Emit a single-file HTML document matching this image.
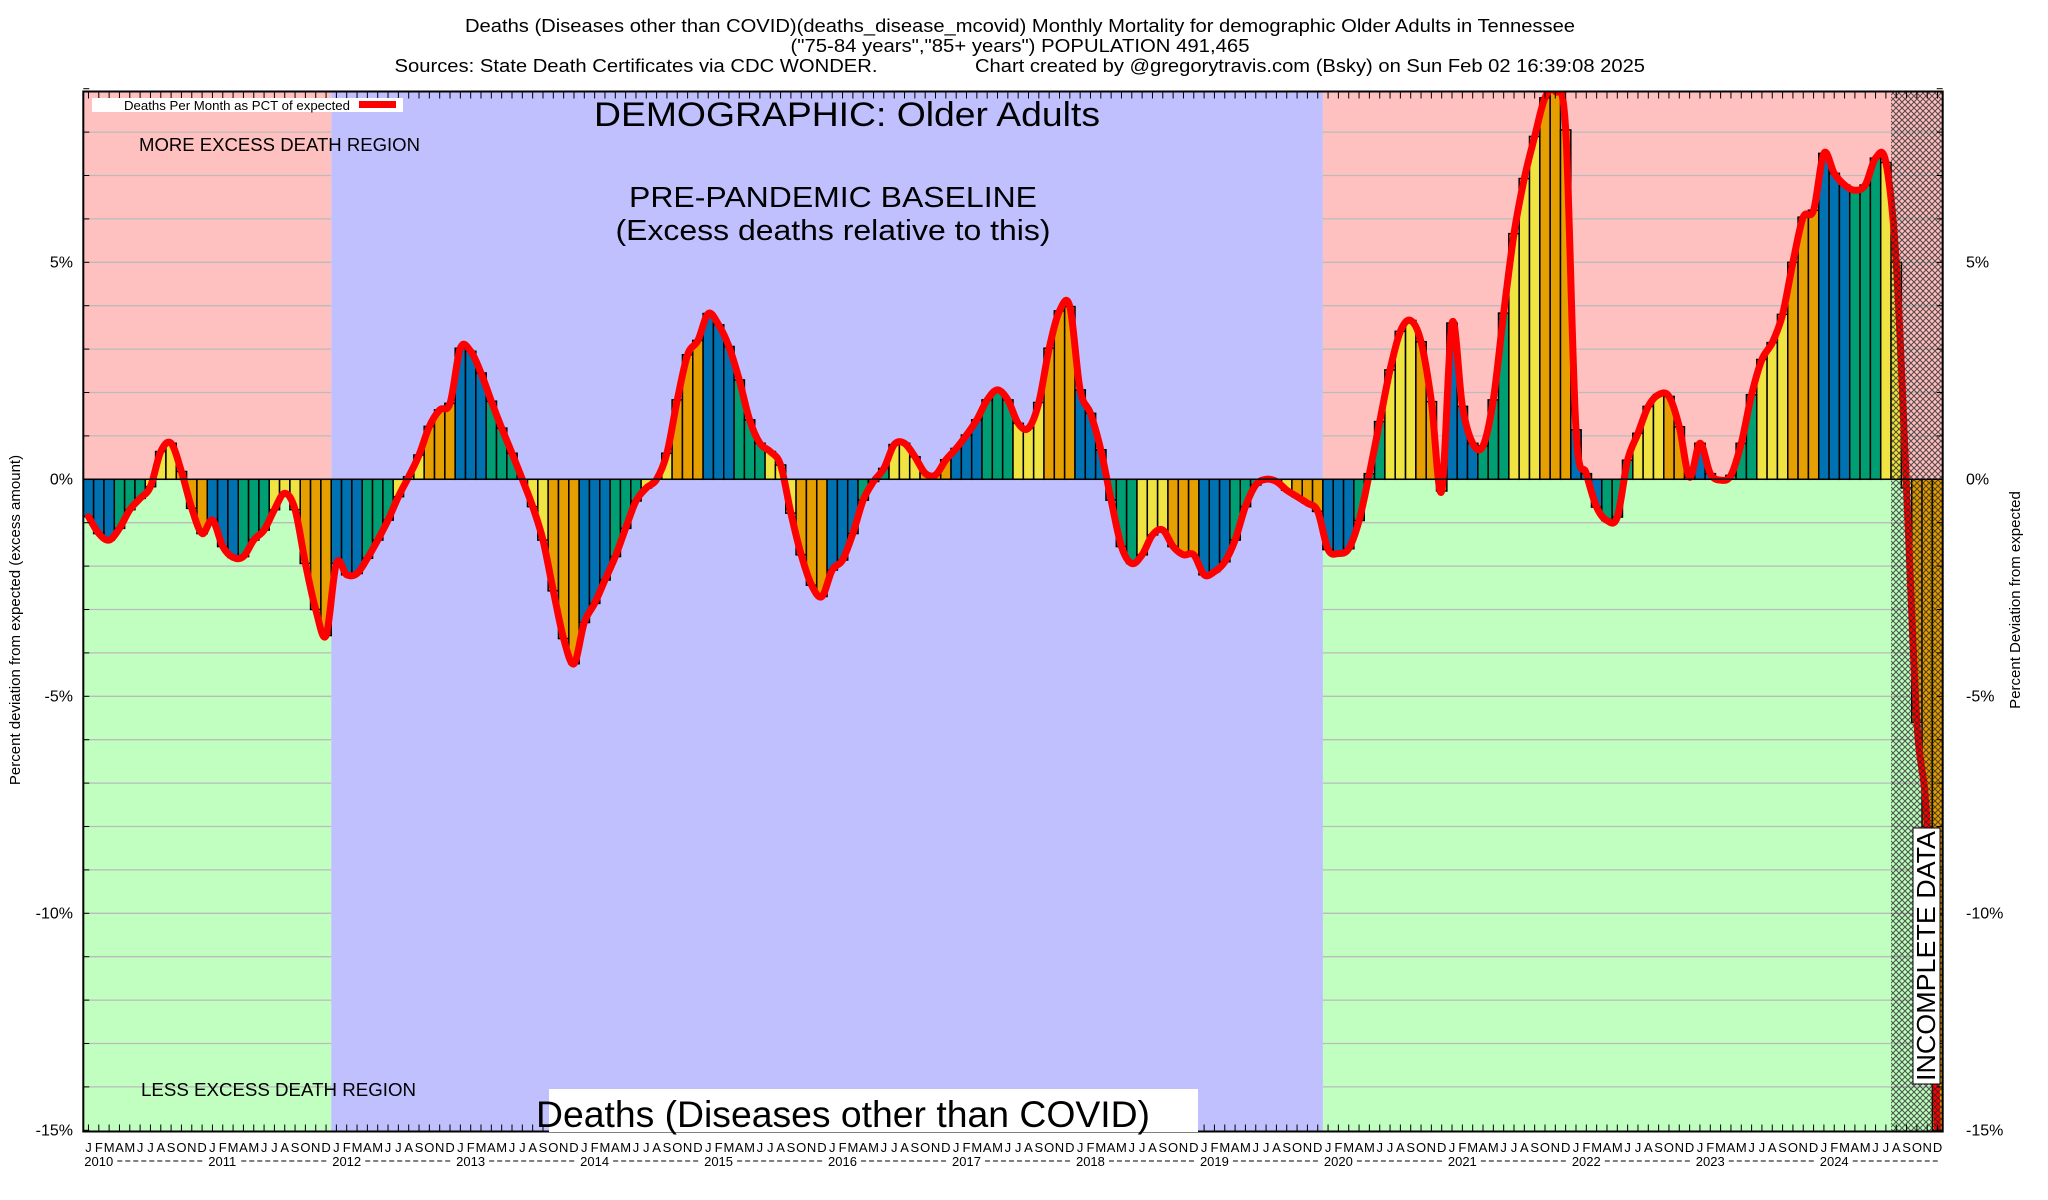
<!DOCTYPE html>
<html><head><meta charset="utf-8"><style>
html,body{margin:0;padding:0;background:#fff;}
svg{display:block;font-family:"Liberation Sans",sans-serif;}
</style></head><body>
<svg id="chart" xmlns="http://www.w3.org/2000/svg" width="2048" height="1200" viewBox="0 0 2048 1200">
<defs>
<pattern id="hatch" width="6" height="6" patternUnits="userSpaceOnUse">
<path d="M0,0 L6,6 M6,0 L0,6" stroke="#222" stroke-width="1.1" fill="none"/>
</pattern>
<clipPath id="plotclip"><rect x="83.3" y="91.5" width="1860" height="1040"/></clipPath>
</defs>
<g font-size="18" fill="#000" text-anchor="middle">
<text x="1020" y="32" textLength="1110" lengthAdjust="spacingAndGlyphs">Deaths (Diseases other than COVID)(deaths_disease_mcovid) Monthly Mortality for demographic Older Adults in Tennessee</text>
<text x="1020" y="52" textLength="459" lengthAdjust="spacingAndGlyphs">("75-84 years","85+ years") POPULATION 491,465</text>
<text x="636" y="72" textLength="483" lengthAdjust="spacingAndGlyphs">Sources: State Death Certificates via CDC WONDER.</text>
<text x="1310" y="72" textLength="670" lengthAdjust="spacingAndGlyphs">Chart created by @gregorytravis.com (Bsky) on Sun Feb 02 16:39:08 2025</text>
</g>
<g id="regions"></g>
<g id="grid"></g>
<g id="bars" clip-path="url(#plotclip)"></g>
<g id="line" clip-path="url(#plotclip)"></g>
<g id="hatchg"></g>
<g id="axes"></g>
<g>
<rect x="92" y="98" width="311" height="14" fill="#fff"/>
<text x="124" y="110" font-size="13" textLength="226" lengthAdjust="spacingAndGlyphs">Deaths Per Month as PCT of expected</text>
<rect x="359" y="101" width="37" height="7" fill="#ff0000"/>
</g>
<text x="139" y="151" font-size="18" textLength="281" lengthAdjust="spacingAndGlyphs">MORE EXCESS DEATH REGION</text>
<text x="141" y="1096" font-size="18" textLength="275" lengthAdjust="spacingAndGlyphs">LESS EXCESS DEATH REGION</text>
<text x="594" y="126" font-size="34" textLength="506" lengthAdjust="spacingAndGlyphs">DEMOGRAPHIC: Older Adults</text>
<text x="833" y="207" font-size="29" text-anchor="middle" textLength="408" lengthAdjust="spacingAndGlyphs">PRE-PANDEMIC BASELINE</text>
<text x="833" y="240" font-size="29" text-anchor="middle" textLength="435" lengthAdjust="spacingAndGlyphs">(Excess deaths relative to this)</text>
<rect x="549" y="1089" width="649" height="43" fill="#fff"/>
<text x="536" y="1127" font-size="37" textLength="614" lengthAdjust="spacingAndGlyphs">Deaths (Diseases other than COVID)</text>
<g>
<rect x="1913" y="828" width="27" height="256" fill="#fff" stroke="#000" stroke-width="1"/>
<text transform="translate(1935,1081) rotate(-90)" font-size="26" textLength="250" lengthAdjust="spacingAndGlyphs">INCOMPLETE DATA</text>
</g>
<text transform="translate(20,620) rotate(-90)" font-size="15" text-anchor="middle">Percent deviation from expected (excess amount)</text>
<text transform="translate(2020,600) rotate(-90)" font-size="15" text-anchor="middle">Percent Deviation from expected</text>
</svg>
<script>
const months = ["J","F","M","A","M","J","J","A","S","O","N","D"];
const years = [2010,2011,2012,2013,2014,2015,2016,2017,2018,2019,2020,2021,2022,2023,2024];
const yTicks = [5,0,-5,-10,-15];
const yTickLabels = ["5%","0%","-5%","-10%","-15%"];
const baselineYears = [2012,2019];
const incompleteFrom = 175;
const values = [
-0.86,-1.25,-1.4,-1.13,-0.7,-0.44,-0.17,0.64,0.83,0.18,-0.67,-1.25,
-0.94,-1.55,-1.8,-1.78,-1.4,-1.17,-0.7,-0.32,-0.7,-1.94,-3.0,-3.6,
-1.94,-2.2,-2.17,-1.82,-1.4,-0.94,-0.4,0.06,0.56,1.22,1.6,1.75,
3.02,2.95,2.45,1.8,1.18,0.6,0,-0.63,-1.4,-2.57,-3.67,-4.25,
-3.3,-2.86,-2.32,-1.78,-1.13,-0.5,-0.2,0,0.6,1.83,2.87,3.2,
3.82,3.56,3.06,2.29,1.37,0.83,0.64,0.33,-0.78,-1.74,-2.44,-2.7,
-2.09,-1.86,-1.25,-0.48,-0.05,0.25,0.8,0.83,0.52,0.14,0.1,0.45,
0.71,1.02,1.37,1.83,2.06,1.83,1.29,1.18,1.77,3.02,3.88,3.98,
2.06,1.52,0.68,-0.48,-1.55,-1.94,-1.74,-1.28,-1.17,-1.55,-1.74,-1.74,
-2.2,-2.13,-1.9,-1.4,-0.63,-0.13,0,-0.05,-0.25,-0.4,-0.55,-0.74,
-1.62,-1.71,-1.6,-0.95,0.13,1.33,2.52,3.41,3.66,3.17,1.79,-0.27,
3.6,1.68,0.83,0.77,1.83,3.83,5.66,6.93,7.9,8.79,8.94,8.05,
1.14,0.13,-0.64,-0.95,-0.87,0.44,1.06,1.68,1.95,1.91,1.21,0.05,
0.83,0.13,-0.02,0.09,0.83,1.95,2.76,3.15,3.8,5.0,6.04,6.2,
7.51,7.05,6.78,6.66,6.78,7.4,7.3,5.0,-0.2,-5.6,-8.0,-15.0
];
const quarterColors = ["#0072b2","#009e73","#f0e442","#e69f00"];

const NS="http://www.w3.org/2000/svg";
const X0=83.3, BW=10.33, N=values.length, X1=X0+BW*N;
const YT=91.5, YB=1131.5;
function xs(i){return X0+BW*i;}
function ys(v){return 479.3-43.4*v;}
function mk(tag,attrs,parent){const e=document.createElementNS(NS,tag);for(const k in attrs)e.setAttribute(k,attrs[k]);parent.appendChild(e);return e;}

const regions=document.getElementById('regions');
const bStart=(baselineYears[0]-years[0])*12, bEnd=(baselineYears[1]-years[0]+1)*12;
[[0,bStart],[bEnd,N]].forEach(([a,b])=>{
  let r=mk('rect',{x:xs(a),y:YT,width:xs(b)-xs(a),height:ys(0)-YT,fill:'#ffc0c0'},regions);
  
  
  r=mk('rect',{x:xs(a),y:ys(0),width:xs(b)-xs(a),height:YB-ys(0),fill:'#c0ffc0'},regions);
  
  
});
const grid=document.getElementById('grid');
for(let v=-14;v<=8;v++){
  if(v===0)continue;
  [[0,bStart],[bEnd,N]].forEach(([a,b])=>{
    const l=mk('line',{x1:xs(a),x2:xs(b),y1:ys(v),y2:ys(v),stroke:'#bbbbbb','stroke-width':1.3},grid);
    
    
  });
}
let br=mk('rect',{x:xs(bStart),y:YT,width:xs(bEnd)-xs(bStart),height:YB-YT,fill:'#c0c0ff'},regions);



const bars=document.getElementById('bars');
values.forEach((v,i)=>{
  const y0=ys(0), y1=ys(v);
  const r=mk('rect',{x:xs(i),y:Math.min(y0,y1),width:BW,height:Math.abs(y1-y0),fill:quarterColors[Math.floor((i%12)/3)],stroke:'#000','stroke-width':1.5},bars);
  
  
});

const pts=values.map((v,i)=>[xs(i)+BW/2,ys(v)]);
let d='M'+pts[0][0].toFixed(1)+','+pts[0][1].toFixed(1);
for(let i=0;i<pts.length-1;i++){
  const p0=pts[Math.max(0,i-1)],p1=pts[i],p2=pts[i+1],p3=pts[Math.min(pts.length-1,i+2)];
  const c1=[p1[0]+(p2[0]-p0[0])/6,p1[1]+(p2[1]-p0[1])/6];
  const c2=[p2[0]-(p3[0]-p1[0])/6,p2[1]-(p3[1]-p1[1])/6];
  d+=' C'+c1[0].toFixed(1)+','+c1[1].toFixed(1)+' '+c2[0].toFixed(1)+','+c2[1].toFixed(1)+' '+p2[0].toFixed(1)+','+p2[1].toFixed(1);
}
const pl=mk('path',{d:d,fill:'none',stroke:'#ff0000','stroke-width':7,'stroke-linejoin':'round','stroke-linecap':'round'},document.getElementById('line'));



const hr=mk('rect',{x:xs(incompleteFrom),y:YT,width:X1-xs(incompleteFrom),height:YB-YT,fill:'url(#hatch)',opacity:0.75},document.getElementById('hatchg'));



const axes=document.getElementById('axes');
const frame=mk('rect',{x:X0,y:YT,width:X1-X0,height:YB-YT,fill:'none',stroke:'#000','stroke-width':2},axes);


const zl=mk('line',{x1:X0,x2:X1,y1:ys(0),y2:ys(0),stroke:'#000','stroke-width':1.5},axes);


for(let v=-15;v<=9;v++){
  mk('line',{x1:X0,x2:X0+6,y1:ys(v),y2:ys(v),stroke:'#000','stroke-width':1},axes);
  mk('line',{x1:X1-6,x2:X1,y1:ys(v),y2:ys(v),stroke:'#000','stroke-width':1},axes);
}
yTicks.forEach((v,k)=>{
  let t=mk('text',{x:73,y:ys(v)+5,'font-size':16,'text-anchor':'end'},axes);
  t.textContent=yTickLabels[k];
  
  
  t=mk('text',{x:1966,y:ys(v)+5,'font-size':16},axes);
  t.textContent=yTickLabels[k];
  
  
});
for(let i=0;i<N;i++){
  mk('line',{x1:xs(i)+BW/2,x2:xs(i)+BW/2,y1:YB,y2:YB-7,stroke:'#000','stroke-width':1},axes);
  mk('line',{x1:xs(i)+BW/2,x2:xs(i)+BW/2,y1:YT,y2:YT+7,stroke:'#000','stroke-width':1},axes);
  const t=mk('text',{x:xs(i)+BW/2,y:1152,'font-size':13,'text-anchor':'middle'},axes);
  t.textContent=months[i%12];
  
  
}
years.forEach((yr,k)=>{
  const t=mk('text',{x:xs(k*12)+1,y:1166,'font-size':13},axes);
  t.textContent=yr;
  
  
  const l=mk('line',{x1:xs(k*12)+34,x2:xs(k*12+12)-2,y1:1161,y2:1161,stroke:'#000','stroke-width':1,'stroke-dasharray':'5 3'},axes);
  
  
});
</script>
</body></html>
